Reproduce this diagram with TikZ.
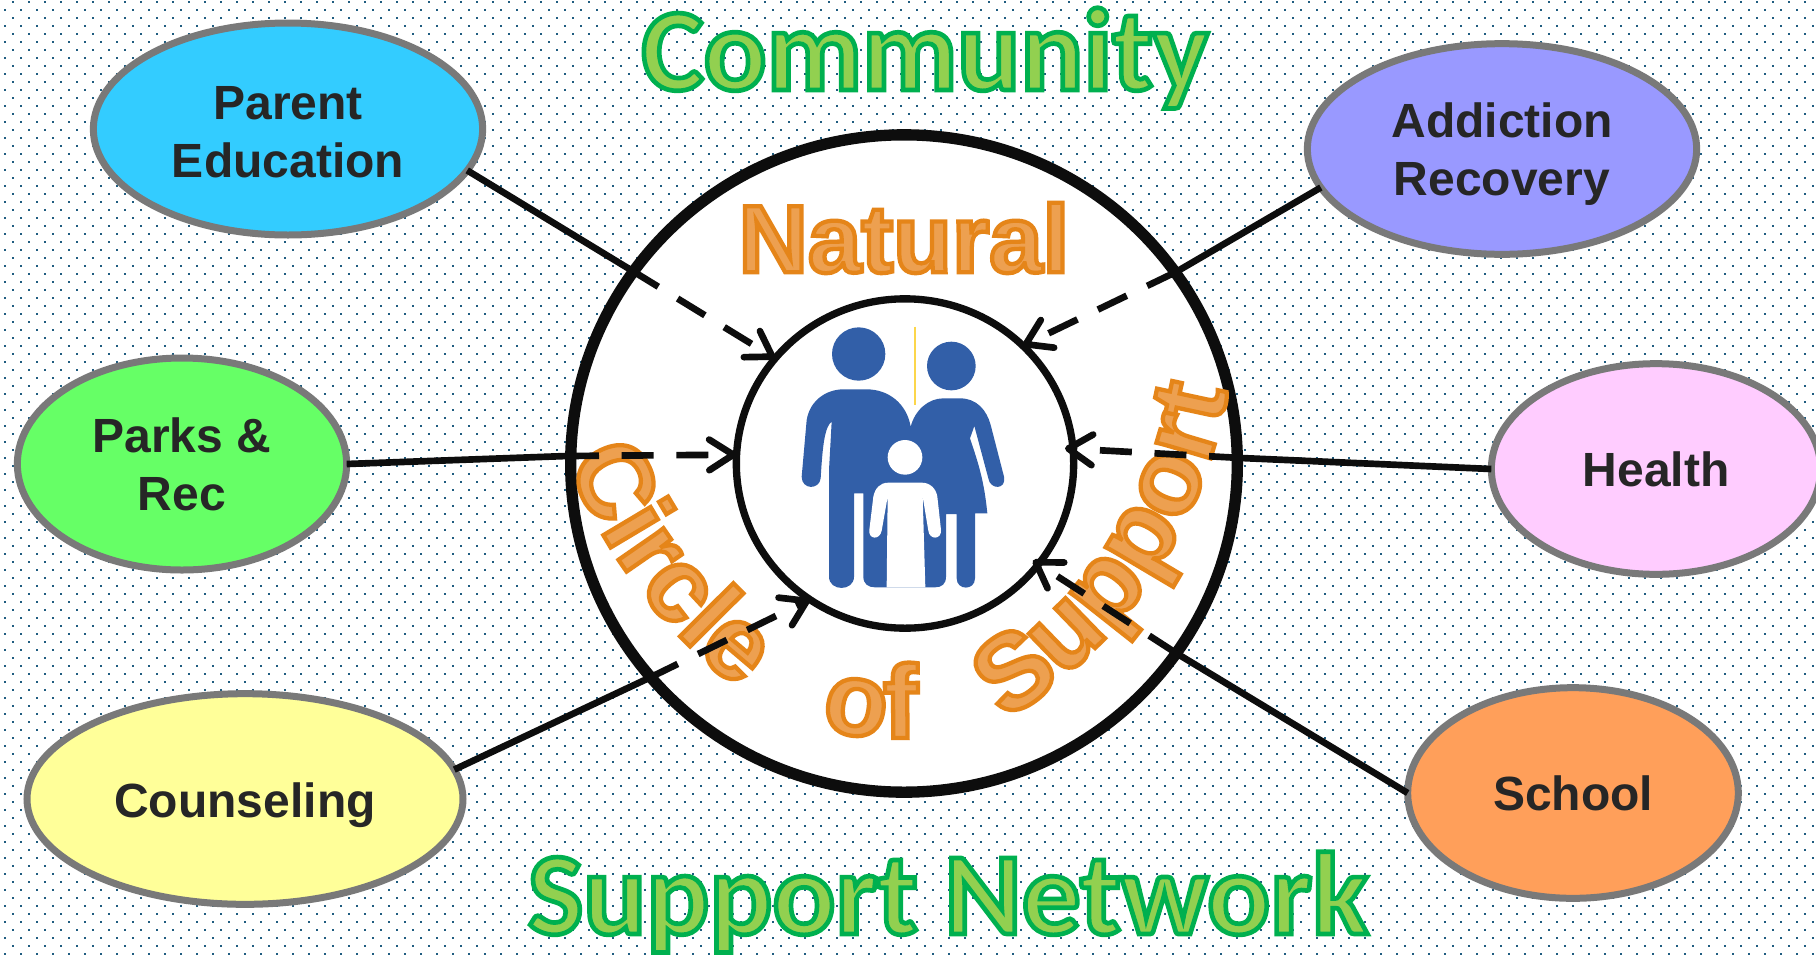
\documentclass[tikz,border=0pt]{standalone}
\usepackage{fontspec}
\setmainfont{Liberation Sans}
\newfontfamily\titlefamily{Carlito}
\usetikzlibrary{shapes.geometric,arrows.meta,decorations.text}
\definecolor{dotblue}{HTML}{1F5C80}
\definecolor{titlefill}{HTML}{92D050}
\definecolor{ringfill}{HTML}{EDA050}
\definecolor{iconblue}{HTML}{325FA8}
\definecolor{labelgray}{HTML}{262626}
% text with a stroke round the letters: pdf render mode 2
\newcommand{\titlestroke}{\special{pdf:code 0 0.69 0.31 RG 2 Tr 3.5 w}}
\newcommand{\ringstroke}{\special{pdf:code 0.90 0.52 0.10 RG 2 Tr 3.2 w}}
\newcommand{\ringword}[1]{\fontsize{#1}{#1}\selectfont\bfseries\color{ringfill}\ringstroke}
\tikzset{
  bubble/.style={ellipse, draw=gray!95!black, line width=5.25pt, inner sep=0pt, outer sep=0pt, text=labelgray, align=center,
    font=\fontsize{36}{43.5}\selectfont\bfseries},
  ring/.style={ellipse, draw=black!95, fill=white, inner sep=0pt, outer sep=0pt},
  conn/.style={draw=black!95, line width=5pt},
  dashconn/.style={conn, dash pattern=on 24pt off 17pt, ->},
  titleword/.style={anchor=base, text=titlefill, font=\titlefamily\fontsize{88}{88}\selectfont\bfseries},
  dotrow/.style={dotblue, line width=1.5pt, dash pattern=on 1.5pt off 10.5pt},
}
\begin{document}
\begin{tikzpicture}[x=0.75pt, y=-0.75pt, >={Straight Barb[length=18pt,width=23pt,round]}]
  \useasboundingbox (0,0) rectangle (1816,957);
  % dotted ground
  \foreach \r [evaluate=\r as \sx using {4+8*mod(\r+1,2)}, evaluate=\r as \sy using {2+8*\r}] in {0,...,119}
    \draw[dotrow] (\sx,\sy) -- (1816,\sy);

  \node[ring, line width=8.5pt, minimum width=500pt, minimum height=493pt] (outer) at (904,463.5) {};
  \node[ring, line width=5.5pt, minimum width=253pt, minimum height=247pt] (inner) at (905,463.5) {};

  \node[bubble, fill={rgb,255:red,51;green,204;blue,255}, minimum width=292pt, minimum height=159pt] (parent) at (288,129) {\rule{0pt}{30pt}Parent\\Education};
  \node[bubble, fill={rgb,255:red,153;green,153;blue,255}, minimum width=292pt, minimum height=158pt] (addiction) at (1502,149) {\rule{0pt}{33pt}Addiction\\Recovery};
  \node[bubble, fill={rgb,255:red,102;green,255;blue,102}, minimum width=247pt, minimum height=159pt] (parks) at (182,464) {Parks \&\\Rec};
  \node[bubble, fill={rgb,255:red,255;green,204;blue,255}, minimum width=247pt, minimum height=158pt] (health) at (1656,469) {Health};
  \node[bubble, fill={rgb,255:red,255;green,255;blue,153}, minimum width=327pt, minimum height=158pt] (counseling) at (245,799) {\rule{0pt}{35pt}Counseling};
  \node[bubble, fill={rgb,255:red,255;green,159;blue,90}, minimum width=248pt, minimum height=158pt] (school) at (1573,793) {School};

  \node[titleword] (community) at (925,90) {\titlestroke Community};
  \node[titleword] (network) at (948,934) {\titlestroke Support Network};
  \node[text=ringfill, font=\fontsize{72}{72}\selectfont\bfseries] (natural) at (904,238) {\ringstroke Natural};

  % words round the bottom of the ring
  \path[decorate, decoration={text along path, text={|\ringword{78}|Circle}, text align=center}]
    plot[domain=188:98, samples=40, smooth] ({1053+520*cos(\x)},{274+520*sin(\x)});
  \path[decorate, decoration={text along path, text={|\ringword{78}|of}, text align=center}]
    plot[domain=122:68, samples=30, smooth] ({898+331*cos(\x)},{407+331*sin(\x)});
  \path[decorate, decoration={text along path, text={|\ringword{80}|Support}, text align=center}]
    plot[domain=84:-16, samples=40, smooth] ({745+490*cos(\x)},{305+490*sin(\x)});

  % family
  \begin{scope}[shift={(780,310)}, x=0.25pt, y=-0.25pt]
    \fill[iconblue] (236,132) circle [radius=20pt];
    \fill[iconblue] (514,168) circle [radius=18.25pt];
    \fill[iconblue] (65,500) -- (80,330) .. controls (90,270) and (140,238) .. (190,238) -- (260,238)
      .. controls (325,238) and (380,280) .. (392,350) .. controls (405,300) and (445,265) .. (490,265) -- (540,265)
      .. controls (590,265) and (620,300) .. (632,345) -- (672,500) .. controls (680,540) and (630,540) .. (625,505)
      -- (583,348) -- (570,385) .. controls (595,460) and (612,510) .. (622,610) -- (585,610) -- (585,805)
      .. controls (585,842) and (530,842) .. (530,805) -- (530,612) -- (498,612) -- (498,800)
      .. controls (498,822) and (485,832) .. (465,832) -- (285,832) .. controls (265,832) and (250,822) .. (250,800)
      -- (250,550) -- (222,550) -- (222,800) .. controls (222,845) and (147,845) .. (147,800) -- (147,480) -- (155,335)
      .. controls (135,350) and (128,400) .. (122,505) .. controls (118,540) and (65,540) .. (65,500) -- cycle;
    \fill[white] (375,442) circle [radius=13pt];
    \fill[white] (268,660) -- (280,560) .. controls (285,535) and (300,518) .. (325,518) -- (425,518)
      .. controls (450,518) and (468,535) .. (472,560) -- (483,660) .. controls (485,690) and (448,690) .. (445,662)
      -- (428,560) -- (436,832) -- (320,832) -- (323,560) -- (305,662) .. controls (300,690) and (265,690) .. (268,660) -- cycle;
    \draw[yellow!60!orange!70!white, line width=1.5pt] (405,50) -- (405,285);
  \end{scope}

  \coordinate (parentx) at (631,270);
  \coordinate (addictionx) at (1176,272);
  \coordinate (parksx) at (567,456);
  \coordinate (healthx) at (1241,458);
  \coordinate (counselingx) at (649,678);
  \coordinate (schoolx) at (1176,653);

  \draw[conn] (parent.-13) -- (parentx);
  \draw[dashconn] (parentx) -- (inner.141);
  \draw[conn] (addiction.192) -- (addictionx);
  \draw[dashconn] (addictionx) -- (inner.45);
  \draw[conn] (parks.east) -- (parksx);
  \draw[dashconn] (parksx) -- (inner.177);
  \draw[conn] (health.west) -- (healthx);
  \draw[dashconn, shorten >=-6pt] (healthx) -- (inner.5);
  \draw[conn] (counseling.8) -- (counselingx);
  \draw[dashconn] (counselingx) -- (inner.235);
  \draw[conn] (school.west) -- (schoolx);
  \draw[dashconn, shorten >=-5pt] (schoolx) -- (inner.-37);
\end{tikzpicture}
\end{document}
